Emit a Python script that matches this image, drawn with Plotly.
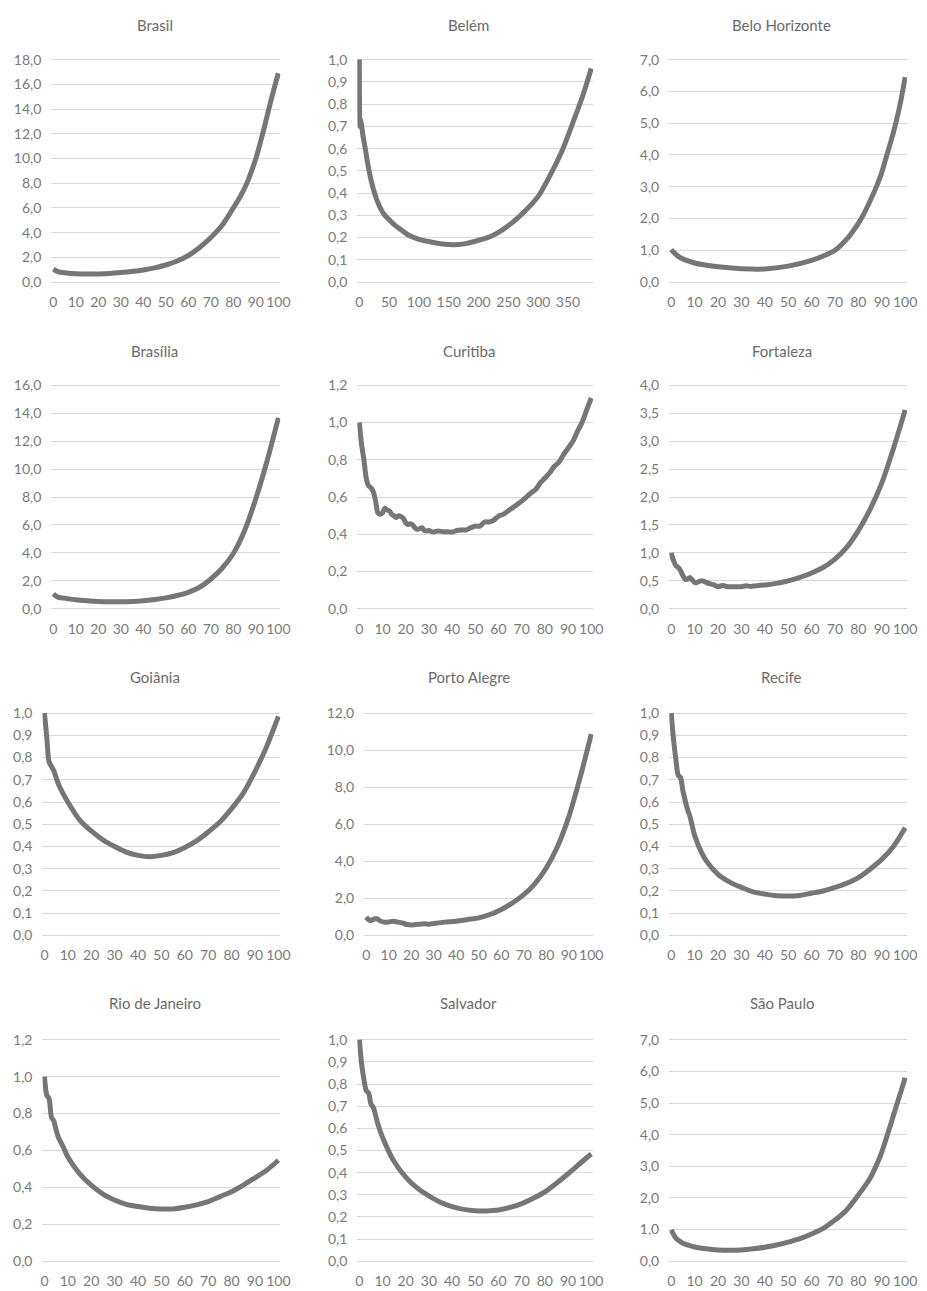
import plotly.graph_objects as go

W, H = 927, 1291

titles = ["Brasil", "Belém", "Belo Horizonte", "Brasília", "Curitiba", "Fortaleza",
          "Goiânia", "Porto Alegre", "Recife", "Rio de Janeiro", "Salvador", "São Paulo"]

brasil_x = [0, 2, 5, 10, 15, 20, 25, 30, 35, 40, 45, 50, 55, 60, 65, 70, 75, 80, 83, 86, 88, 90, 92, 94, 96, 98, 100]
brasil_y = [1.05, 0.85, 0.75, 0.68, 0.65, 0.66, 0.70, 0.77, 0.86, 0.98, 1.15, 1.38, 1.70, 2.15, 2.8, 3.6, 4.6, 6.0, 6.9, 8.0, 8.95, 10.0, 11.3, 12.7, 14.2, 15.6, 16.9]

belem_x = [0, 1, 2, 4, 6, 8, 10, 13, 16, 20, 25, 30, 40, 50, 60, 70, 80, 100, 120, 140, 160, 180, 200, 220, 240, 260, 280, 300, 320, 340, 360, 375, 389]
belem_y = [1.0, 0.70, 0.73, 0.70, 0.66, 0.63, 0.60, 0.55, 0.505, 0.455, 0.405, 0.365, 0.31, 0.28, 0.255, 0.235, 0.215, 0.192, 0.18, 0.171, 0.168, 0.174, 0.188, 0.205, 0.235, 0.275, 0.325, 0.385, 0.48, 0.59, 0.73, 0.84, 0.96]

bh_x = [0, 3, 10, 20, 30, 40, 50, 60, 65, 70, 75, 80, 82, 85, 88, 90, 92, 94, 96, 98, 100]
bh_y = [1.02, 0.81, 0.60, 0.48, 0.42, 0.41, 0.50, 0.68, 0.82, 1.0, 1.35, 1.85, 2.1, 2.55, 3.05, 3.45, 3.95, 4.45, 5.0, 5.65, 6.45]

brasilia_x = [0, 2, 5, 10, 15, 20, 25, 30, 35, 40, 45, 50, 55, 60, 65, 70, 75, 80, 85, 90, 95, 100]
brasilia_y = [1.07, 0.83, 0.76, 0.64, 0.57, 0.52, 0.50, 0.50, 0.52, 0.57, 0.66, 0.78, 0.95, 1.18, 1.54, 2.13, 2.9, 3.96, 5.6, 7.9, 10.6, 13.67]

curitiba_x = [0, 1, 2, 3, 4, 5, 6, 7, 8, 9, 10, 11, 12, 13, 14, 15, 16, 17, 18, 19, 20, 21, 22, 23, 24, 25, 26, 27, 28, 29, 30,
              32, 34, 36, 38, 40, 42, 44, 46, 48, 50, 52, 54, 56, 58, 60, 62, 64, 66, 68, 70, 72, 74, 76, 78, 80,
              82, 84, 86, 88, 90, 92, 94, 96, 98, 100]
curitiba_y = [1.0, 0.88, 0.80, 0.70, 0.66, 0.65, 0.63, 0.58, 0.515, 0.507, 0.515, 0.54, 0.53, 0.525, 0.507, 0.50, 0.49, 0.50, 0.495, 0.485,
              0.462, 0.453, 0.457, 0.45, 0.435, 0.427, 0.43, 0.435, 0.42, 0.418, 0.42,
              0.412, 0.418, 0.414, 0.414, 0.412, 0.42, 0.423, 0.423, 0.435, 0.444, 0.444, 0.466, 0.466, 0.476, 0.498,
              0.507, 0.524, 0.542, 0.56, 0.578, 0.60, 0.622, 0.64, 0.676, 0.702, 0.729, 0.764, 0.786, 0.827, 0.862,
              0.898, 0.951, 1.0, 1.067, 1.132]

fortaleza_x = [0, 1, 2, 3, 4, 5, 6, 7, 8, 9, 10, 11, 12, 13, 14, 16, 18, 20, 22, 24, 26, 28, 30, 32, 34, 36, 38, 40,
               45, 50, 55, 60, 65, 70, 75, 80, 85, 90, 95, 100]
fortaleza_y = [1.0, 0.86, 0.77, 0.74, 0.68, 0.59, 0.53, 0.53, 0.56, 0.515, 0.47, 0.47, 0.49, 0.50, 0.49, 0.455, 0.43, 0.40,
               0.415, 0.395, 0.395, 0.395, 0.395, 0.41, 0.40, 0.41, 0.42, 0.425,
               0.455, 0.50, 0.56, 0.64, 0.74, 0.89, 1.10, 1.40, 1.78, 2.25, 2.87, 3.56]

goiania_x = [0, 1, 2, 3, 4, 6, 10, 15, 20, 25, 30, 35, 40, 45, 50, 55, 60, 65, 70, 75, 80, 85, 90, 95, 100]
goiania_y = [1.0, 0.89, 0.78, 0.76, 0.74, 0.68, 0.60, 0.52, 0.47, 0.43, 0.40, 0.375, 0.36, 0.354, 0.36, 0.372, 0.395,
             0.425, 0.465, 0.51, 0.57, 0.64, 0.737, 0.85, 0.985]

poa_x = [0, 1, 2, 3, 4, 5, 6, 8, 10, 12, 14, 16, 18, 20, 22, 24, 26, 28, 30, 35, 40, 45, 50, 55, 60, 65, 70, 75, 80, 85, 90, 95, 100]
poa_y = [1.0, 0.86, 0.80, 0.86, 0.90, 0.90, 0.80, 0.72, 0.73, 0.77, 0.72, 0.68, 0.59, 0.57, 0.59, 0.61, 0.63, 0.61, 0.65,
         0.72, 0.77, 0.86, 0.95, 1.13, 1.40, 1.76, 2.2, 2.8, 3.64, 4.8, 6.4, 8.5, 10.86]

recife_x = [0, 1, 2, 3, 4, 5, 7, 8, 10, 12, 15, 20, 25, 30, 35, 40, 45, 50, 55, 60, 65, 70, 75, 80, 85, 90, 95, 100]
recife_y = [1.0, 0.88, 0.79, 0.72, 0.71, 0.65, 0.565, 0.535, 0.45, 0.395, 0.335, 0.275, 0.24, 0.216, 0.196, 0.186, 0.179,
            0.177, 0.18, 0.19, 0.20, 0.216, 0.235, 0.26, 0.298, 0.342, 0.40, 0.484]

rio_x = [0, 1, 2, 3, 4, 5, 6, 8, 10, 15, 20, 25, 30, 35, 40, 45, 50, 55, 60, 65, 70, 75, 80, 85, 90, 95, 100]
rio_y = [1.0, 0.90, 0.88, 0.78, 0.76, 0.71, 0.67, 0.62, 0.565, 0.475, 0.412, 0.364, 0.332, 0.308, 0.296, 0.287, 0.283,
         0.283, 0.292, 0.305, 0.323, 0.35, 0.376, 0.412, 0.452, 0.493, 0.547]

salvador_x = [0, 1, 2, 3, 4, 5, 6, 8, 10, 15, 20, 25, 30, 35, 40, 45, 50, 55, 60, 65, 70, 75, 80, 85, 90, 95, 100]
salvador_y = [1.0, 0.89, 0.82, 0.77, 0.76, 0.71, 0.695, 0.62, 0.56, 0.45, 0.38, 0.33, 0.295, 0.266, 0.246, 0.234, 0.228,
              0.227, 0.231, 0.243, 0.26, 0.284, 0.313, 0.352, 0.395, 0.44, 0.485]

sp_x = [0, 1, 2, 3, 5, 8, 10, 15, 20, 25, 30, 35, 40, 45, 50, 55, 60, 65, 70, 75, 80, 85, 88, 90, 92, 94, 96, 98, 100]
sp_y = [0.99, 0.84, 0.73, 0.66, 0.57, 0.49, 0.45, 0.39, 0.355, 0.345, 0.355, 0.39, 0.44, 0.51, 0.60, 0.71, 0.86, 1.04,
        1.30, 1.62, 2.09, 2.62, 3.08, 3.45, 3.9, 4.37, 4.85, 5.32, 5.8]

series = [(brasil_x, brasil_y), (belem_x, belem_y), (bh_x, bh_y), (brasilia_x, brasilia_y),
          (curitiba_x, curitiba_y), (fortaleza_x, fortaleza_y), (goiania_x, goiania_y), (poa_x, poa_y),
          (recife_x, recife_y), (rio_x, rio_y), (salvador_x, salvador_y), (sp_x, sp_y)]

y_max = [18, 1.0, 7, 16, 1.2, 4, 1.0, 12, 1.0, 1.2, 1.0, 7]
y_step = [2, 0.1, 1, 2, 0.2, 0.5, 0.1, 2, 0.1, 0.2, 0.1, 1]
x_max = [100, 389, 100, 100, 100, 100, 100, 100, 100, 100, 100, 100]
x_step = [10, 50, 10, 10, 10, 10, 10, 10, 10, 10, 10, 10]

# plot-area boxes in pixels (left, right, top, bottom)
boxes = [(52, 280, 55, 279), (362, 597, 55, 279), (678, 915, 55, 279),
         (52, 280, 383, 608), (362, 597, 383, 608), (678, 915, 383, 608),
         (43, 280, 713, 937), (369, 597, 713, 937), (678, 915, 713, 937),
         (43, 280, 1042, 1265), (362, 597, 1042, 1265), (678, 915, 1042, 1265)]
title_cx = [155, 473, 790]
title_cy = [20, 348, 677, 1005]

LINE = "#767676"
GRID = "#d9d9d9"
TICK = "#7a7a7a"
TITLE = "#6b6b6b"
FONT = "Lato, Open Sans, sans-serif"

fig = go.Figure()
annotations = []
for i in range(12):
    xs, ys = series[i]
    xa = "x" if i == 0 else f"x{i+1}"
    ya = "y" if i == 0 else f"y{i+1}"
    fig.add_trace(go.Scatter(x=xs, y=ys, xaxis=xa, yaxis=ya, mode="lines",
                             line=dict(color=LINE, width=5, shape="spline", smoothing=0.8),
                             showlegend=False, hoverinfo="skip"))
    L, R, T, B = boxes[i]
    kx = (R - L) / x_max[i]
    ky = (B - T) / y_max[i]
    px, py = 2, 4
    xr = [-px / kx, x_max[i] + px / kx]
    yr = [-py / ky, y_max[i] + py / ky]
    xdom = [(L - px) / W, (R + px) / W]
    ydom = [1 - (B + py) / H, 1 - (T - py) / H]
    xkey = "xaxis" if i == 0 else f"xaxis{i+1}"
    ykey = "yaxis" if i == 0 else f"yaxis{i+1}"
    fig.layout[xkey] = dict(domain=xdom, range=xr, anchor=ya, tick0=0, dtick=x_step[i],
                            showgrid=False, zeroline=False, showline=False, ticks="",
                            tickfont=dict(family=FONT, size=14, color=TICK),
                            ticklabelstandoff=6, fixedrange=True)
    fig.layout[ykey] = dict(domain=ydom, range=yr, anchor=xa, tick0=0, dtick=y_step[i],
                            tickformat=".1f", showgrid=True, gridcolor=GRID, gridwidth=1,
                            zeroline=False, showline=False, ticks="",
                            tickfont=dict(family=FONT, size=14, color=TICK),
                            ticklabelstandoff=9, fixedrange=True)
    annotations.append(dict(text=titles[i], xref="paper", yref="paper",
                            x=title_cx[i % 3] / W, y=1 - title_cy[i // 3] / H,
                            xanchor="center", yanchor="middle", showarrow=False,
                            font=dict(family=FONT, size=15, color=TITLE)))

fig.update_layout(width=W, height=H, autosize=False, margin=dict(l=0, r=0, t=0, b=0),
                  paper_bgcolor="white", plot_bgcolor="white", separators=",.",
                  annotations=annotations, showlegend=False)

fig.write_html("out.html", config={"responsive": False, "displayModeBar": False},
               post_script="document.body.style.margin='0px';document.body.style.padding='0px';document.body.style.overflow='hidden';")
